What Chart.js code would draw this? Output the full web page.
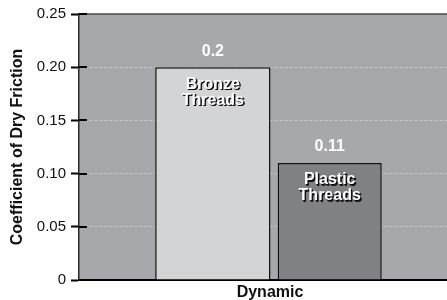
<!DOCTYPE html>
<html>
<head>
<meta charset="utf-8">
<script src="https://cdn.jsdelivr.net/npm/chart.js@4.4.1/dist/chart.umd.min.js"></script>
<style>
  html, body { margin: 0; padding: 0; background: #ffffff; }
  #wrap { width: 447px; height: 300px; position: relative; }
</style>
</head>
<body>
<div id="wrap"><canvas id="frictionChart"></canvas></div>
<script>
const categories = ['Dynamic'];
const seriesNames = [['Bronze', 'Threads'], ['Plastic', 'Threads']];
const bronzeValues = [0.2];
const plasticValues = [0.11];
const valueLabels = ['0.2', '0.11'];
const yTicks = [0, 0.05, 0.10, 0.15, 0.20, 0.25];

const FONT = '"Liberation Sans", Arial, Helvetica, sans-serif';

// plot background, top border and the small ticks that cross into the plot
const frame = {
  id: 'frame',
  beforeDraw(chart) {
    const { ctx, chartArea: a } = chart;
    ctx.save();
    ctx.fillStyle = '#a7a8ab';
    ctx.fillRect(a.left, a.top, a.right - a.left, a.bottom - a.top);
    ctx.restore();
  },
  afterDraw(chart) {
    const { ctx, chartArea: a } = chart;
    const y = chart.scales.y;
    ctx.save();
    ctx.strokeStyle = '#4a4a4c';
    ctx.lineWidth = 1.5;
    ctx.beginPath();
    ctx.moveTo(a.left, a.top);
    ctx.lineTo(a.right, a.top);
    ctx.stroke();
    ctx.strokeStyle = '#000';
    ctx.lineWidth = 2;
    yTicks.forEach(v => {
      const py = Math.round(y.getPixelForValue(v));
      ctx.beginPath();
      ctx.moveTo(a.left, py);
      ctx.lineTo(a.left + 8, py);
      ctx.stroke();
    });
    ctx.restore();
  }
};

// value above each bar and the white name inside it
const barText = {
  id: 'barText',
  afterDatasetsDraw(chart) {
    const { ctx } = chart;
    ctx.save();
    ctx.textAlign = 'center';
    ctx.textBaseline = 'middle';
    chart.data.datasets.forEach((ds, i) => {
      const bar = chart.getDatasetMeta(i).data[0];
      ctx.font = 'bold 16px ' + FONT;
      ctx.fillStyle = '#ffffff';
      ctx.fillText(valueLabels[i], bar.x, bar.y - 16);
      ctx.font = 'bold 16px ' + FONT;
      seriesNames[i].forEach((line, k) => {
        const ty = bar.y + 17 + k * 16;
        ctx.fillStyle = '#111';
        ctx.fillText(line, bar.x + 1, ty + 1);
        ctx.fillText(line, bar.x + 1.5, ty + 1.5);
        ctx.fillStyle = '#ffffff';
        ctx.fillText(line, bar.x, ty);
      });
    });
    ctx.restore();
  }
};

new Chart(document.getElementById('frictionChart').getContext('2d'), {
  type: 'bar',
  data: {
    labels: categories,
    datasets: [
      {
        label: seriesNames[0].join(' '),
        data: bronzeValues,
        backgroundColor: '#d3d4d6',
        borderColor: '#111',
        borderWidth: 1.5,
        categoryPercentage: 0.545,
        barPercentage: 1.15
      },
      {
        label: seriesNames[1].join(' '),
        data: plasticValues,
        backgroundColor: '#808184',
        borderColor: '#111',
        borderWidth: 1.5,
        categoryPercentage: 0.725,
        barPercentage: 0.78
      }
    ]
  },
  options: {
    responsive: true,
    maintainAspectRatio: false,
    animation: false,
    layout: { padding: { top: 14, right: 0, bottom: 0, left: 0 } },
    plugins: {
      legend: { display: false },
      tooltip: { enabled: false }
    },
    scales: {
      x: {
        afterFit: s => { s.height = 20; },
        grid: { display: false, drawTicks: false },
        border: { color: '#000', width: 2 },
        ticks: {
          color: '#111',
          padding: 3,
          labelOffset: 7,
          font: { family: FONT, size: 16, weight: 'bold' }
        }
      },
      y: {
        min: 0,
        max: 0.25,
        afterFit: s => { s.width = 79; },
        afterBuildTicks: s => { s.ticks = yTicks.map(v => ({ value: v })); },
        border: { color: '#2a2a2a', width: 1.5, dash: [3, 2] },
        grid: {
          color: ctx => (ctx.tick && (ctx.tick.value === 0 || ctx.tick.value === 0.25)) ? 'rgba(0,0,0,0)' : '#c6c7c9',
          tickColor: '#000',
          tickLength: 8,
          tickWidth: 2,
          lineWidth: 1,
          tickBorderDash: []
        },
        ticks: {
          color: '#111',
          padding: 5,
          font: { family: FONT, size: 15 },
          callback: v => v === 0 ? '0' : v.toFixed(2)
        },
        title: {
          display: true,
          text: 'Coefficient of Dry Friction',
          color: '#111',
          padding: { top: 8, bottom: 0 },
          font: { family: FONT, size: 16, weight: 'bold' }
        }
      }
    }
  },
  plugins: [frame, barText]
});
</script>
</body>
</html>
